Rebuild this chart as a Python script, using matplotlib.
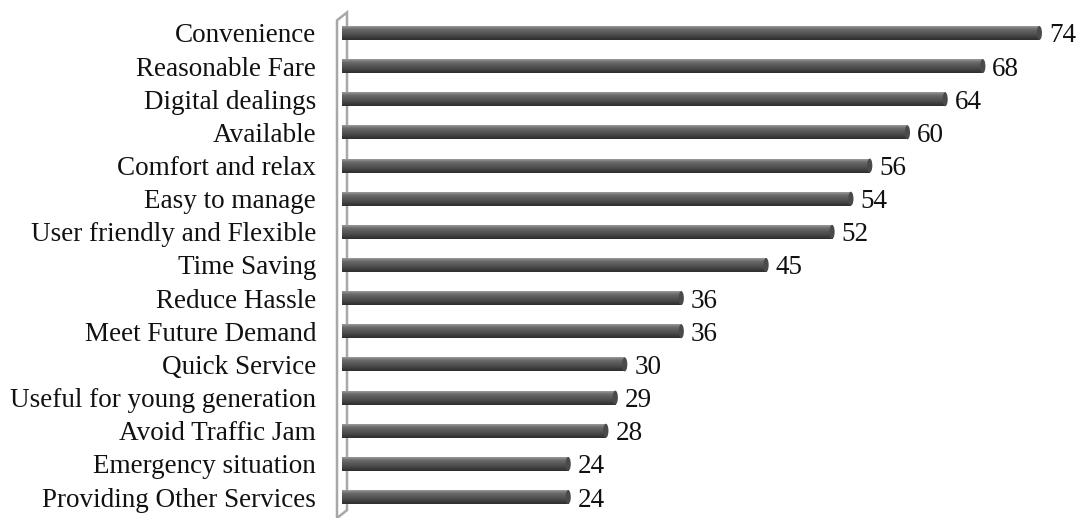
import matplotlib.pyplot as plt
import matplotlib.transforms as mtransforms
import numpy as np
from matplotlib.colors import LinearSegmentedColormap
from matplotlib.patches import Polygon, Ellipse

categories = [
    "Convenience", "Reasonable Fare", "Digital dealings", "Available",
    "Comfort and relax", "Easy to manage", "User friendly and Flexible",
    "Time Saving", "Reduce Hassle", "Meet Future Demand", "Quick Service",
    "Useful for young generation", "Avoid Traffic Jam", "Emergency situation",
    "Providing Other Services",
]
values = [74, 68, 64, 60, 56, 54, 52, 45, 36, 36, 30, 29, 28, 24, 24]

plt.rcParams["font.family"] = ["Liberation Serif", "DejaVu Serif"]

fig = plt.figure(figsize=(10.78, 5.18), dpi=100)
ax = fig.add_axes([342 / 1078, 1 - 513.6 / 518, 736 / 1078, (513.6 - 16.4) / 518])

pos = list(range(len(categories)))
h = 0.42
# vertical shading of each bar (top -> bottom)
shade = LinearSegmentedColormap.from_list(
    "cyl", ["#9a9a9a", "#6e6e6e", "#5c5c5c", "#505050", "#3e3e3e", "#2e2e2e"])
grad = np.linspace(0, 1, 64).reshape(-1, 1)

for p, v in zip(pos, values):
    ax.imshow(grad, cmap=shade, aspect="auto", interpolation="bilinear",
              extent=(0, v, p + h / 2, p - h / 2), zorder=3)
    ax.add_patch(Ellipse((v, p), 0.55, h, facecolor="#4a4a4a", edgecolor="none", zorder=3))
    ax.text(v + 1.0, p, str(v), va="center_baseline", ha="left", fontsize=19.5,
            color="#111111")

ax.set_xlim(0, 78.1)
ax.set_ylim(len(categories) - 0.5, -0.5)
ax.set_yticks(pos)
ax.set_yticklabels(categories, fontsize=19.5, color="#111111")
ax.tick_params(axis="y", length=0, pad=18.7)
ax.set_xticks([])
for s in ax.spines.values():
    s.set_visible(False)

# 3D-style wall at the base of the bars
trans = mtransforms.blended_transform_factory(ax.transData, ax.transAxes)
d = 0.53
wall = Polygon([(-d, 0.992), (d, 1.008), (d, 0.007), (-d, -0.009)],
               closed=True, facecolor="white", edgecolor="#a8a8a8", linewidth=1.8,
               transform=trans, clip_on=False, zorder=2)
ax.add_patch(wall)

fig.savefig("out.png", dpi=100)
